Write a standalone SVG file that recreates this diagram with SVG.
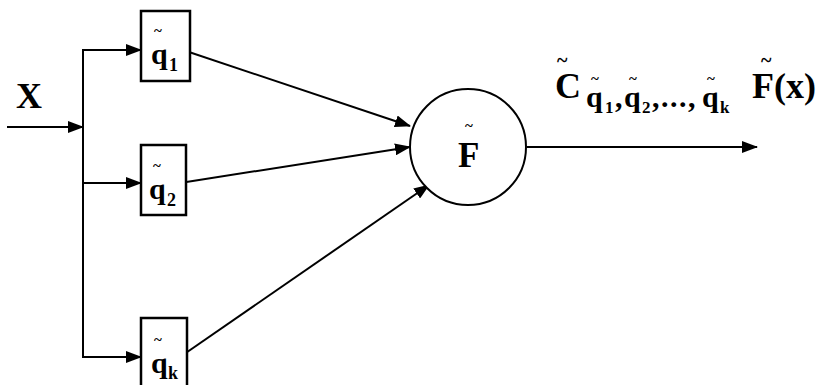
<svg xmlns="http://www.w3.org/2000/svg" width="825" height="385" viewBox="0 0 825 385">
<style>
.ln{stroke:#000;stroke-width:2;fill:none}
.bx{stroke:#000;stroke-width:2.5;fill:#fff}
.t{font-family:"Liberation Serif","Times New Roman",serif;font-weight:bold;fill:#000}
</style>
<defs>
<marker id="ah" markerUnits="userSpaceOnUse" markerWidth="16" markerHeight="12" refX="15" refY="6" orient="auto">
<path d="M0,0 L16,6 L0,12 Z" fill="#000"/>
</marker>
</defs>
<g id="connectors">
<line class="ln" x1="7" y1="127" x2="83" y2="127" marker-end="url(#ah)"/>
<polyline class="ln" points="141,50 83,50 83,357 141,357"/>
<line class="ln" x1="83" y1="50" x2="141" y2="50" marker-end="url(#ah)"/>
<line class="ln" x1="83" y1="183" x2="141" y2="183" marker-end="url(#ah)"/>
<line class="ln" x1="83" y1="357" x2="141" y2="357" marker-end="url(#ah)"/>
<line class="ln" x1="180" y1="49" x2="410" y2="126" marker-end="url(#ah)"/>
<line class="ln" x1="180" y1="183" x2="410" y2="147" marker-end="url(#ah)"/>
<line class="ln" x1="180" y1="357" x2="429" y2="185" marker-end="url(#ah)"/>
<line class="ln" x1="527" y1="147" x2="757" y2="147" marker-end="url(#ah)"/>
</g>
<g id="input-x">
<text class="t" x="16" y="108" font-size="36">X</text>
</g>
<g id="q1">
<rect class="bx" x="141" y="11" width="49" height="70"/>
<text class="t" x="154" y="36" font-size="15">~</text>
<text class="t" x="151" y="64" font-size="30">q</text>
<text class="t" x="169" y="71" font-size="18">1</text>
</g>
<g id="q2">
<rect class="bx" x="141" y="145" width="45" height="70"/>
<text class="t" x="153" y="171" font-size="15">~</text>
<text class="t" x="149" y="199" font-size="30">q</text>
<text class="t" x="167" y="206" font-size="18">2</text>
</g>
<g id="qk">
<rect class="bx" x="141" y="318" width="46" height="80"/>
<text class="t" x="154" y="345" font-size="15">~</text>
<text class="t" x="151" y="373" font-size="30">q</text>
<text class="t" x="168" y="379" font-size="18">k</text>
</g>
<g id="F">
<circle cx="468" cy="147" r="58" stroke="#000" stroke-width="2" fill="#fff"/>
<text class="t" x="465" y="131" font-size="15">~</text>
<text class="t" x="458" y="167" font-size="35">F</text>
</g>
<g id="output-label">
<text class="t" x="557" y="67" font-size="20">~</text>
<text class="t" x="555" y="98" font-size="36">C</text>
<text class="t" x="591" y="84" font-size="15">~</text>
<text class="t" x="586" y="107" font-size="30">q</text>
<text class="t" x="605" y="113" font-size="17">1</text>
<text class="t" x="615" y="107" font-size="30">,</text>
<text class="t" x="629" y="84" font-size="15">~</text>
<text class="t" x="624" y="107" font-size="30">q</text>
<text class="t" x="642" y="113" font-size="17">2</text>
<text class="t" x="652" y="107" font-size="30" letter-spacing="1.5">,...,</text>
<text class="t" x="707" y="84" font-size="15">~</text>
<text class="t" x="702" y="107" font-size="30">q</text>
<text class="t" x="720" y="113" font-size="17">k</text>
<text class="t" x="761" y="67" font-size="20">~</text>
<text class="t" x="752" y="98" font-size="36">F(x)</text>
</g>
</svg>
